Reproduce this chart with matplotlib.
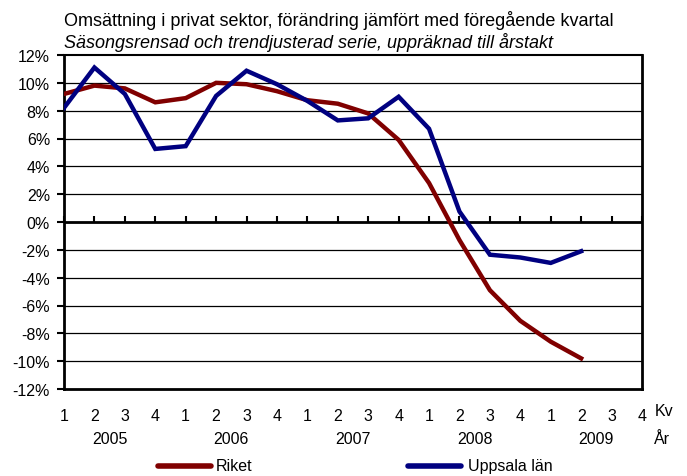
import matplotlib
matplotlib.use("Agg")
import matplotlib.pyplot as plt
from matplotlib.lines import Line2D
import matplotlib.transforms as mtransforms

plt.rcParams['font.family'] = ['Liberation Sans', 'DejaVu Sans']

quarters = ['1', '2', '3', '4'] * 5
years = ['2005', '2006', '2007', '2008', '2009']
riket = [9.2, 9.8, 9.6, 8.6, 8.9, 10.0, 9.9, 9.4, 8.75, 8.5, 7.8, 5.9,
         2.8, -1.3, -4.9, -7.1, -8.6, -9.8]
uppsala = [8.2, 11.1, 9.2, 5.25, 5.45, 9.06, 10.87, 9.9, 8.7, 7.3, 7.45,
           9.0, 6.7, 0.75, -2.35, -2.55, -2.94, -2.1]
yticks = list(range(-12, 13, 2))

fs = 11.5
fig = plt.figure(figsize=(6.87, 4.77), dpi=100)
ax = fig.add_axes([64/687, 1-390/477, (642-64)/687, (390-56)/477])

red = '#800000'
blue = '#000080'
x = list(range(len(riket)))
ax.plot(x, riket, color=red, lw=3.2, solid_joinstyle='miter', zorder=4)
ax.plot(x, uppsala, color=blue, lw=3.2, solid_joinstyle='miter', zorder=5)

ax.set_xlim(0, len(quarters) - 1)
ax.set_ylim(-12, 12)
ax.set_yticks(yticks)
ax.set_yticklabels([f'{v}%' for v in yticks], fontsize=fs)
for v in yticks:
    if v not in (-12, 0, 12):
        ax.axhline(v, color='black', lw=0.9, zorder=1)
ax.axhline(0, color='black', lw=2, zorder=3)

for s in ['left', 'right', 'bottom']:
    ax.spines[s].set_linewidth(2)
ax.spines['top'].set_linewidth(1.5)
ax.tick_params(axis='y', length=5, width=1.5, pad=5)

# quarter labels
ax.set_xticks(range(len(quarters)))
ax.set_xticklabels(quarters, fontsize=fs)
ax.tick_params(axis='x', length=0, pad=14)

# ticks at zero line
sec = ax.secondary_xaxis(0.5)
sec.set_xticks(range(len(quarters)))
sec.set_xticklabels([])
sec.tick_params(axis='x', length=4, width=1.5, direction='out')
sec.spines['bottom'].set_visible(False)

trans = mtransforms.blended_transform_factory(ax.transData, fig.transFigure)
for i, yr in enumerate(years):
    ax.text(1.5 + 4*i, 1-439/477, yr, transform=trans, ha='center', va='center', fontsize=fs)
ax.text(664/687, 1-412/477, 'Kv', transform=fig.transFigure, ha='center', va='center', fontsize=fs)
ax.text(662/687, 1-439/477, 'År', transform=fig.transFigure, ha='center', va='center', fontsize=fs)

# title
fig.text(64/687, 1-21/477, 'Omsättning i privat sektor, förändring jämfört med föregående kvartal',
         ha='left', va='center', fontsize=13)
fig.text(64/687, 1-43/477, 'Säsongsrensad och trendjusterad serie, uppräknad till årstakt',
         ha='left', va='center', fontsize=13, style='italic')

# legend
ly = 1-467/477
fig.add_artist(Line2D([158/687, 211/687], [ly, ly], color=red, lw=4, solid_capstyle='round', transform=fig.transFigure))
fig.text(216/687, ly, 'Riket', ha='left', va='center', fontsize=fs)
fig.add_artist(Line2D([408/687, 461/687], [ly, ly], color=blue, lw=4, solid_capstyle='round', transform=fig.transFigure))
fig.text(468/687, ly, 'Uppsala län', ha='left', va='center', fontsize=fs)

fig.savefig('out.png', dpi=100)
